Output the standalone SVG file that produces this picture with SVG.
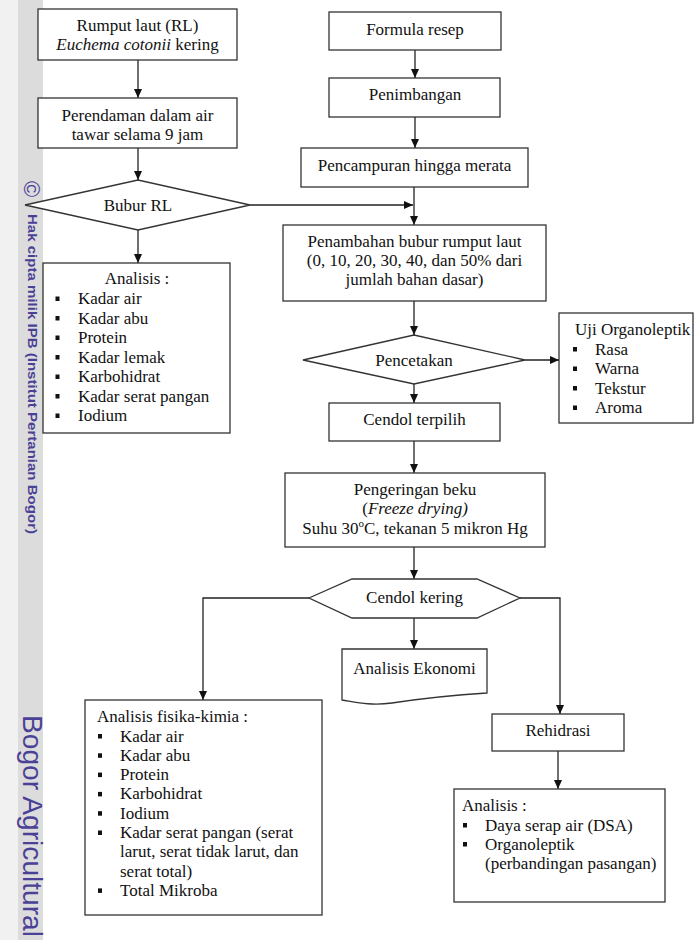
<svg xmlns="http://www.w3.org/2000/svg" width="694" height="940" viewBox="0 0 694 940">
<style>
.box{fill:#fff;stroke:#333;stroke-width:1.3}
.t{font-family:"Liberation Serif","Times New Roman",serif;font-size:17px;fill:#111}
.c{text-anchor:middle}
.i{font-style:italic}
.edge{stroke:#222;stroke-width:1.3;fill:none}
.arr{marker-end:url(#ah)}
.bul{fill:#111}
.wm{font-family:"Liberation Sans",Arial,sans-serif;fill:#4a4196}
</style>
<defs>
<marker id="ah" markerUnits="userSpaceOnUse" markerWidth="10" markerHeight="8" refX="9" refY="4" orient="auto">
<path d="M0,0 L9,4 L0,8 Z" fill="#111"/>
</marker>
</defs>
<rect x="0" y="0" width="694" height="940" fill="#fff"/>
<g id="watermark">
<rect x="0" y="0" width="18" height="940" fill="#f1f1f1"/>
<rect x="18" y="0" width="25" height="940" fill="#dcdcdc"/>
<text class="wm" font-size="22" transform="translate(24,181) rotate(90)">©</text>
<text class="wm" font-size="13" font-weight="bold" textLength="320" lengthAdjust="spacingAndGlyphs" transform="translate(27.5,214) rotate(90)">Hak cipta milik IPB (Institut Pertanian Bogor)</text>
<text class="wm" font-size="27" textLength="222" lengthAdjust="spacingAndGlyphs" transform="translate(23,715) rotate(90)">Bogor Agricultural</text>
</g>
<g id="connectors">
<path class="edge arr" d="M138,60 V98"/>
<path class="edge arr" d="M138,148 V180"/>
<path class="edge arr" d="M138,230 V263"/>
<path class="edge arr" d="M250,205 H413"/>
<path class="edge arr" d="M415,50 V78"/>
<path class="edge arr" d="M415,117 V148"/>
<path class="edge arr" d="M414,187 V225"/>
<path class="edge arr" d="M414,301 V335"/>
<path class="edge arr" d="M525,360 H559"/>
<path class="edge arr" d="M414,384 V403"/>
<path class="edge arr" d="M414,441 V473"/>
<path class="edge arr" d="M414,547 V579"/>
<path class="edge arr" d="M309,598 H203 V700"/>
<path class="edge arr" d="M414,618 V649"/>
<path class="edge arr" d="M520,598 H560 V714"/>
<path class="edge arr" d="M558,751 V789"/>
</g>
<g id="rumput">
<rect class="box" x="38" y="9" width="199" height="51"/>
<text class="t c" x="137.5" y="31">Rumput laut (RL)</text>
<text class="t c" x="137.5" y="50"><tspan class="i">Euchema cotonii</tspan> kering</text>
</g>
<g id="perendaman">
<rect class="box" x="38" y="98" width="199" height="50"/>
<text class="t c" x="137.5" y="121">Perendaman dalam air</text>
<text class="t c" x="137.5" y="140">tawar selama 9 jam</text>
</g>
<g id="bubur">
<polygon class="box" points="25,205 138,180 250,205 138,230"/>
<text class="t c" x="138" y="211">Bubur RL</text>
</g>
<g id="analisis1">
<rect class="box" x="43" y="263" width="187" height="170"/>
<text class="t c" x="137" y="284">Analisis :</text>
<rect class="bul" x="55.5" y="296.5" width="4" height="4.5"/><text class="t" x="78" y="304">Kadar air</text>
<rect class="bul" x="55.5" y="316" width="4" height="4.5"/><text class="t" x="78" y="323.5">Kadar abu</text>
<rect class="bul" x="55.5" y="335.5" width="4" height="4.5"/><text class="t" x="78" y="343">Protein</text>
<rect class="bul" x="55.5" y="355" width="4" height="4.5"/><text class="t" x="78" y="362.5">Kadar lemak</text>
<rect class="bul" x="55.5" y="374.5" width="4" height="4.5"/><text class="t" x="78" y="382">Karbohidrat</text>
<rect class="bul" x="55.5" y="394" width="4" height="4.5"/><text class="t" x="78" y="401.5">Kadar serat pangan</text>
<rect class="bul" x="55.5" y="413.5" width="4" height="4.5"/><text class="t" x="78" y="421">Iodium</text>
</g>
<g id="formula">
<rect class="box" x="329" y="12" width="172" height="38"/>
<text class="t c" x="415" y="35">Formula resep</text>
</g>
<g id="penimbangan">
<rect class="box" x="329" y="78" width="171" height="39"/>
<text class="t c" x="415" y="100">Penimbangan</text>
</g>
<g id="pencampuran">
<rect class="box" x="301" y="148" width="227" height="39"/>
<text class="t c" x="414.5" y="171">Pencampuran hingga merata</text>
</g>
<g id="penambahan">
<rect class="box" x="283" y="225" width="263" height="76"/>
<text class="t c" x="414.5" y="247">Penambahan bubur rumput laut</text>
<text class="t c" x="414.5" y="266">(0, 10, 20, 30, 40, dan 50% dari</text>
<text class="t c" x="414.5" y="285">jumlah bahan dasar)</text>
</g>
<g id="pencetakan">
<polygon class="box" points="303,360 414,335 525,360 414,384"/>
<text class="t c" x="414" y="366">Pencetakan</text>
</g>
<g id="uji">
<rect class="box" x="559" y="313" width="134" height="110"/>
<text class="t" x="575" y="335">Uji Organoleptik</text>
<rect class="bul" x="573" y="347" width="4" height="4.5"/><text class="t" x="595" y="354.5">Rasa</text>
<rect class="bul" x="573" y="366.5" width="4" height="4.5"/><text class="t" x="595" y="374">Warna</text>
<rect class="bul" x="573" y="386" width="4" height="4.5"/><text class="t" x="595" y="393.5">Tekstur</text>
<rect class="bul" x="573" y="405.5" width="4" height="4.5"/><text class="t" x="595" y="413">Aroma</text>
</g>
<g id="terpilih">
<rect class="box" x="329" y="403" width="171" height="38"/>
<text class="t c" x="414.5" y="425">Cendol terpilih</text>
</g>
<g id="pengeringan">
<rect class="box" x="285" y="473" width="260" height="74"/>
<text class="t c" x="415" y="495">Pengeringan beku</text>
<text class="t c" x="415" y="514">(<tspan class="i">Freeze drying)</tspan></text>
<text class="t c" x="415" y="534">Suhu 30<tspan font-size="11" dy="-7">o</tspan><tspan dy="7">C, tekanan 5 mikron Hg</tspan></text>
</g>
<g id="kering">
<polygon class="box" points="309,598 352,579 477,579 520,598 477,618 352,618"/>
<text class="t c" x="414.5" y="603">Cendol kering</text>
</g>
<g id="ekonomi">
<path class="box" d="M342,649 H487 V693 C455,695 425,698 392,703 C370,706 355,702 342,700 Z"/>
<text class="t c" x="414.5" y="674">Analisis Ekonomi</text>
</g>
<g id="fisika">
<rect class="box" x="85" y="700" width="237" height="215"/>
<text class="t" x="97" y="722">Analisis fisika-kimia :</text>
<rect class="bul" x="98" y="734" width="4" height="4.5"/><text class="t" x="120" y="741.5">Kadar air</text>
<rect class="bul" x="98" y="753.3" width="4" height="4.5"/><text class="t" x="120" y="760.8">Kadar abu</text>
<rect class="bul" x="98" y="772.6" width="4" height="4.5"/><text class="t" x="120" y="780.1">Protein</text>
<rect class="bul" x="98" y="791.9" width="4" height="4.5"/><text class="t" x="120" y="799.4">Karbohidrat</text>
<rect class="bul" x="98" y="811.2" width="4" height="4.5"/><text class="t" x="120" y="818.7">Iodium</text>
<rect class="bul" x="98" y="830.5" width="4" height="4.5"/><text class="t" x="120" y="838">Kadar serat pangan (serat</text>
<text class="t" x="120" y="857.3">larut, serat tidak larut, dan</text>
<text class="t" x="120" y="876.6">serat total)</text>
<rect class="bul" x="98" y="888.4" width="4" height="4.5"/><text class="t" x="120" y="895.9">Total Mikroba</text>
</g>
<g id="rehidrasi">
<rect class="box" x="492" y="714" width="132" height="37"/>
<text class="t c" x="558" y="736">Rehidrasi</text>
</g>
<g id="analisis2">
<rect class="box" x="454" y="789" width="211" height="113"/>
<text class="t" x="462" y="811">Analisis :</text>
<rect class="bul" x="463" y="823" width="4" height="4.5"/><text class="t" x="485" y="830.5">Daya serap air (DSA)</text>
<rect class="bul" x="463" y="842" width="4" height="4.5"/><text class="t" x="485" y="849.5">Organoleptik</text>
<text class="t" x="485" y="868.5">(perbandingan pasangan)</text>
</g>
</svg>
